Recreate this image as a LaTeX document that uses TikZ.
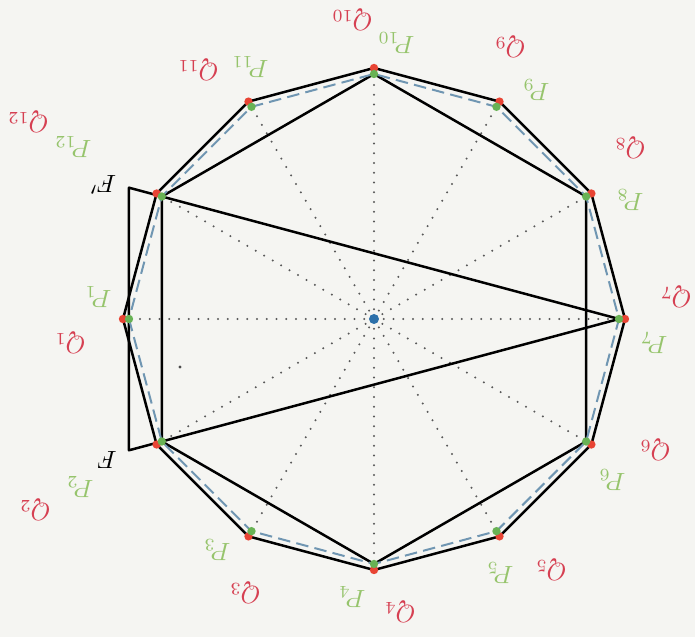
\documentclass[tikz,border=0pt]{standalone}
\usetikzlibrary{calc}
\definecolor{qred}{RGB}{232,68,52}
\definecolor{qtext}{RGB}{214,64,82}
\definecolor{pgreen}{RGB}{104,178,84}
\definecolor{ptext}{RGB}{150,196,108}
\definecolor{oblue}{RGB}{44,112,170}
\definecolor{pdash}{RGB}{112,150,178}
\definecolor{paper}{RGB}{245,245,242}
\tikzset{
  qlab/.style={text=qtext, rotate=180, inner sep=0pt},
  plab/.style={text=ptext, rotate=180, inner sep=0pt},
  flab/.style={rotate=180, inner sep=0pt},
  hull/.style={black, line width=1pt, line join=round},
  pgon/.style={pdash, line width=0.8pt, dash pattern=on 5pt off 2.5pt},
  spoke/.style={black!65, line width=0.9pt, dash pattern=on 0pt off 3.9pt, line cap=round},
}
\begin{document}
\begin{tikzpicture}[x=0.4pt, y=0.4pt]
  % paper and frame
  \fill[paper] (-374,-318) rectangle (321,319);
  \useasboundingbox (-374,-318) rectangle (321,319);
  % === points ===
  \coordinate (O) at (0,0);
  \foreach \k in {1,...,12} {
    \coordinate (P\k) at ({150+30*\k}:245);
    \coordinate (Q\k) at ({150+30*\k}:251);
  }
  \coordinate (Fp) at ($(P7)!1.0718!(P12)$);
  \coordinate (F)  at ($(P7)!1.0718!(P2)$);
  % === spokes ===
  \foreach \k in {1,...,12} \draw[spoke] (O) -- (P\k);
  % === polygons ===
  \draw[hull] (Q1) -- (Q2) -- (Q3) -- (Q4) -- (Q5) -- (Q6) -- (Q7) -- (Q8)
    -- (Q9) -- (Q10) -- (Q11) -- (Q12) -- cycle;
  \draw[hull] (P2) -- (P4) -- (P6) -- (P8) -- (P10) -- (P12) -- cycle;
  \draw[hull] (Fp) -- (P7) -- (F) -- cycle;
  \draw[pgon] (P1) -- (P2) -- (P3) -- (P4) -- (P5) -- (P6) -- (P7) -- (P8)
    -- (P9) -- (P10) -- (P11) -- (P12) -- cycle;
  % === dots ===
  \foreach \k in {1,...,12} {
    \fill[qred] (Q\k) circle (4.2);
    \fill[pgreen] (P\k) circle (4.2);
  }
  \fill[oblue] (O) circle (5);
  \fill[black!70] (-194,-48) circle (1.6);
  % === labels ===
  \node[qlab] (lq1)  at (-304,-24)  {$Q_{1}$};
  \node[plab] (lp1)  at (-276,22)   {$P_{1}$};
  \node[qlab] (lq2)  at (-339,-191) {$Q_{2}$};
  \node[plab] (lp2)  at (-294,-168) {$P_{2}$};
  \node[qlab] (lq3)  at (-129,-274) {$Q_{3}$};
  \node[plab] (lp3)  at (-157,-231) {$P_{3}$};
  \node[qlab] (lq4)  at (26,-293)   {$Q_{4}$};
  \node[plab] (lp4)  at (-22,-278)  {$P_{4}$};
  \node[qlab] (lq5)  at (177,-251)  {$Q_{5}$};
  \node[plab] (lp5)  at (126,-254)  {$P_{5}$};
  \node[qlab] (lq6)  at (281,-131)  {$Q_{6}$};
  \node[plab] (lp6)  at (238,-161)  {$P_{6}$};
  \node[qlab] (lq7)  at (302,22)    {$Q_{7}$};
  \node[plab] (lp7)  at (280,-24)   {$P_{7}$};
  \node[qlab] (lq8)  at (256,171)   {$Q_{8}$};
  \node[plab] (lp8)  at (256,119)   {$P_{8}$};
  \node[qlab] (lq9)  at (136,272)   {$Q_{9}$};
  \node[plab] (lp9)  at (162,229)   {$P_{9}$};
  \node[qlab] (lq10) at (-22,299)   {$Q_{10}$};
  \node[plab] (lp10) at (22,276)    {$P_{10}$};
  \node[qlab] (lq11) at (-176,249)  {$Q_{11}$};
  \node[plab] (lp11) at (-124,252)  {$P_{11}$};
  \node[qlab] (lq12) at (-346,197)  {$Q_{12}$};
  \node[plab] (lp12) at (-301,172)  {$P_{12}$};
  \node[flab] (lf)   at (-267,-141) {$F$};
  \node[flab] (lfp)  at (-271,134)  {$F'$};
\end{tikzpicture}
\end{document}
